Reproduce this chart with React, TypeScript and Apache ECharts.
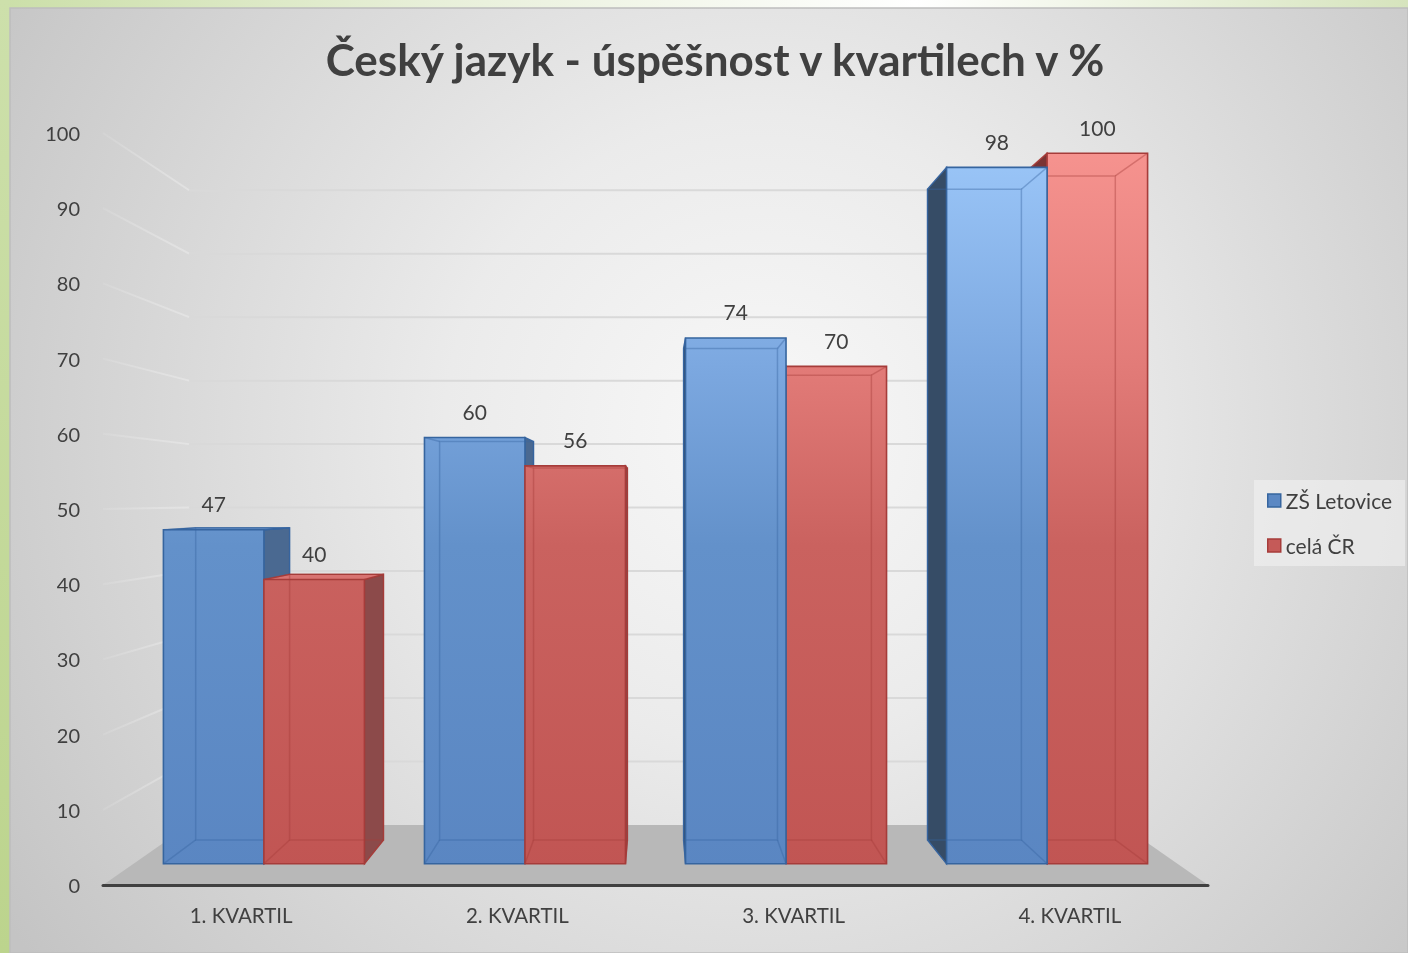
import React, { useEffect, useRef } from "react";
import * as echarts from "echarts";

// ---- data ----
const categories = ["1. KVARTIL", "2. KVARTIL", "3. KVARTIL", "4. KVARTIL"];
const zsLetovice = [47, 60, 74, 98];
const celaCR = [40, 56, 70, 100];
const seriesNames = ["ZŠ Letovice", "celá ČR"];
const gridValues = [10, 20, 30, 40, 50, 60, 70, 80, 90, 100];
const titleText = "Český jazyk - úspěšnost v kvartilech v %";

// ---- layout / style constants ----
const FONT = "Lato, 'Open Sans', sans-serif";
const TEXT = "#404040";
const K_FRONT = 0.945; // bar front plane
const K_BACK = 0.883; // bar back plane
const K_WALL = 0.844; // back wall
const VY_FRAC = 0.488; // vanishing point height within grid
const BAR_FRAC = 0.385; // bar width as share of category band

const palette = [
  {
    front: {
      type: "linear", x: 0, y: 150, x2: 0, y2: 870, global: true,
      colorStops: [
        { offset: 0, color: "#9bc6f8" },
        { offset: 0.3, color: "#7ca8e0" },
        { offset: 0.55, color: "#6391ca" },
        { offset: 1, color: "#5a86c2" },
      ],
    },
    sideRight: "#4a6991",
    sideLeft: "#364c66",
    top: "#7fa9de",
    border: "#36659f",
    legend: "#5b88c3",
  },
  {
    front: {
      type: "linear", x: 0, y: 150, x2: 0, y2: 870, global: true,
      colorStops: [
        { offset: 0, color: "#f6938f" },
        { offset: 0.3, color: "#e27b78" },
        { offset: 0.55, color: "#ca625f" },
        { offset: 1, color: "#c15553" },
      ],
    },
    sideRight: "#8c4a4a",
    sideLeft: "#7a3434",
    top: "#d87371",
    border: "#a63c3a",
    legend: "#c55a58",
  },
];

function makeProj(cs: any) {
  const vx = cs.x + cs.width / 2;
  const vy = cs.y + cs.height * VY_FRAC;
  return (X: number, Y: number, k: number) => [vx + (X - vx) * k, vy + (Y - vy) * k];
}

function barRenderer(s: number) {
  return (params: any, api: any) => {
    const cs = params.coordSys;
    const proj = makeProj(cs);
    const vx = cs.x + cs.width / 2;
    const vy = cs.y + cs.height * VY_FRAC;
    const i = api.value(0);
    const v = api.value(1);
    const base = api.coord([i, 0]);
    const top = api.coord([i, v]);
    const band = api.size([1, 0])[0];
    const w = band * BAR_FRAC;
    const xl = s === 0 ? base[0] - w : base[0];
    const xr = xl + w;
    const y0 = base[1];
    const y1 = top[1];
    const col = palette[s];

    const Ftl = proj(xl, y1, K_FRONT), Ftr = proj(xr, y1, K_FRONT);
    const Fbl = proj(xl, y0, K_FRONT), Fbr = proj(xr, y0, K_FRONT);
    const Btl = proj(xl, y1, K_BACK), Btr = proj(xr, y1, K_BACK);
    const Bbl = proj(xl, y0, K_BACK), Bbr = proj(xr, y0, K_BACK);

    const dist = Math.abs((xl + xr) / 2 - vx);
    const z = Math.round(2000 - dist) * 10;
    const children: any[] = [];

    if (xr < vx) {
      children.push({
        type: "polygon", z2: z,
        shape: { points: [Ftr, Btr, Bbr, Fbr] },
        style: { fill: col.sideRight, stroke: col.border, lineWidth: 1.2 },
      });
    }
    if (xl > vx) {
      children.push({
        type: "polygon", z2: z,
        shape: { points: [Ftl, Btl, Bbl, Fbl] },
        style: { fill: col.sideLeft, stroke: col.border, lineWidth: 1.2 },
      });
    }
    if (y1 > vy) {
      children.push({
        type: "polygon", z2: z + 1,
        shape: { points: [Ftl, Ftr, Btr, Btl] },
        style: { fill: col.top, stroke: col.border, lineWidth: 1.2 },
      });
    }
    children.push({
      type: "polygon", z2: z + 2,
      shape: { points: [Ftl, Ftr, Fbr, Fbl] },
      style: { fill: col.front, stroke: col.border, lineWidth: 1.6 },
    });
    // edges seen through the translucent front
    const edge = { stroke: col.border, lineWidth: 1.5, opacity: 0.4, fill: null };
    children.push({
      type: "polygon", z2: z + 3,
      shape: { points: [Btl, Btr, Bbr, Bbl] },
      style: edge,
    });
    [[Ftl, Btl], [Ftr, Btr], [Fbl, Bbl], [Fbr, Bbr]].forEach(([a, b]) => {
      children.push({
        type: "line", z2: z + 3,
        shape: { x1: a[0], y1: a[1], x2: b[0], y2: b[1] },
        style: edge,
      });
    });
    children.push({
      type: "text", z2: 100000,
      x: (Ftl[0] + Ftr[0]) / 2,
      y: Ftl[1] - 26,
      style: {
        text: String(v), fill: TEXT, font: `21px ${FONT}`,
        textAlign: "center", textVerticalAlign: "middle",
      },
    });
    return { type: "group", children };
  };
}

function gridRenderer(params: any, api: any) {
  const cs = params.coordSys;
  const proj = makeProj(cs);
  const y = api.coord([0, api.value(1)])[1];
  const L = cs.x, R = cs.x + cs.width;
  const p1 = proj(L, y, 1), p2 = proj(L, y, K_WALL), p3 = proj(R, y, K_WALL);
  return {
    type: "group",
    children: [
      {
        type: "line",
        shape: { x1: p1[0], y1: p1[1], x2: p2[0], y2: p2[1] },
        style: {
          stroke: {
            type: "linear", x: p1[0], y: 0, x2: p2[0], y2: 0, global: true,
            colorStops: [
              { offset: 0, color: "rgba(245,245,245,0.1)" },
              { offset: 1, color: "rgba(235,235,235,0.55)" },
            ],
          },
          lineWidth: 2,
        },
      },
      {
        type: "line",
        shape: { x1: p2[0], y1: p2[1], x2: p3[0], y2: p3[1] },
        style: { stroke: "#d9d9d9", lineWidth: 2 },
      },
    ],
  };
}

function floorRenderer(params: any, api: any) {
  const cs = params.coordSys;
  const proj = makeProj(cs);
  const y = api.coord([0, 0])[1];
  const L = cs.x, R = cs.x + cs.width;
  return {
    type: "polygon",
    shape: { points: [proj(L, y, 1), proj(R, y, 1), proj(R, y, K_WALL), proj(L, y, K_WALL)] },
    style: { fill: "#b8b8b8" },
  };
}

export default function App() {
  const ref = useRef<HTMLDivElement>(null);
  useEffect(() => {
    if (!ref.current) return;
    const chart = echarts.init(ref.current, null, { renderer: "svg" });
    const option: any = {
      animation: false,
      grid: { left: 103, right: 200, top: 133, bottom: 68 },
      graphic: [
        {
          type: "rect", z: -20, silent: true,
          shape: { x: 0, y: 0, width: 1408, height: 953 },
          style: {
            fill: {
              type: "linear", x: 0, y: 0, x2: 1, y2: 0,
              colorStops: [
                { offset: 0, color: "#cbdfa8" },
                { offset: 0.3, color: "#e7efd8" },
                { offset: 0.65, color: "#ffffff" },
                { offset: 1, color: "#d6e4bd" },
              ],
            },
          },
        },
        {
          type: "rect", z: -19, silent: true,
          shape: { x: 0, y: 0, width: 10, height: 953 },
          style: {
            fill: {
              type: "linear", x: 0, y: 0, x2: 0, y2: 1,
              colorStops: [
                { offset: 0, color: "#cde0ab" },
                { offset: 1, color: "#bcd48d" },
              ],
            },
          },
        },
        {
          type: "rect", z: -18, silent: true,
          shape: { x: 10, y: 8, width: 1398, height: 945 },
          style: {
            fill: {
              type: "radial", x: 760, y: 430, r: 900, global: true,
              colorStops: [
                { offset: 0, color: "#f8f8f8" },
                { offset: 0.35, color: "#ebebeb" },
                { offset: 1, color: "#c4c4c4" },
              ],
            },
            stroke: "#bdbdbd", lineWidth: 1.5,
          },
        },
        {
          type: "text", z: 10, silent: true,
          x: 715, y: 59,
          style: {
            text: titleText, fill: TEXT, font: `bold 44px ${FONT}`,
            textAlign: "center", textVerticalAlign: "middle",
          },
        },
      ],
      legend: {
        orient: "vertical",
        left: 1254,
        top: 480,
        padding: [10, 13, 10, 13],
        itemGap: 24,
        itemWidth: 13,
        itemHeight: 13,
        backgroundColor: "rgba(242,242,242,0.6)",
        textStyle: { fontSize: 21, color: TEXT, fontFamily: FONT },
        data: seriesNames.map((n, s) => ({
          name: n,
          icon: "rect",
          itemStyle: { color: palette[s].legend, borderColor: palette[s].border, borderWidth: 1.5 },
        })),
      },
      xAxis: {
        type: "category",
        data: categories,
        z: 5,
        axisLine: { lineStyle: { color: "#404040", width: 3 } },
        axisTick: { length: 7, lineStyle: { color: "#404040", width: 3 } },
        axisLabel: { fontSize: 20.5, color: TEXT, margin: 19, fontFamily: FONT },
        splitLine: { show: false },
      },
      yAxis: {
        type: "value",
        min: 0,
        max: 100,
        interval: 10,
        axisLine: { show: false },
        axisTick: { show: false },
        splitLine: { show: false },
        axisLabel: { fontSize: 20, color: TEXT, margin: 23, fontFamily: FONT },
      },
      series: [
        {
          type: "custom", name: "grid", z: 1, silent: true, clip: false,
          data: gridValues.map((v) => [0, v]),
          renderItem: gridRenderer,
        },
        {
          type: "custom", name: "floor", z: 1, silent: true, clip: false,
          data: [[0, 0]],
          renderItem: floorRenderer,
        },
        {
          type: "custom", name: seriesNames[0], z: 2, silent: true, clip: false,
          itemStyle: { color: palette[0].legend },
          data: zsLetovice.map((v, i) => [i, v]),
          renderItem: barRenderer(0),
        },
        {
          type: "custom", name: seriesNames[1], z: 2, silent: true, clip: false,
          itemStyle: { color: palette[1].legend },
          data: celaCR.map((v, i) => [i, v]),
          renderItem: barRenderer(1),
        },
      ],
    };
    chart.setOption(option);
    return () => chart.dispose();
  }, []);
  return (
    <div
      ref={ref}
      style={{ position: "fixed", left: 0, top: 0, width: 1408, height: 953 }}
    />
  );
}
